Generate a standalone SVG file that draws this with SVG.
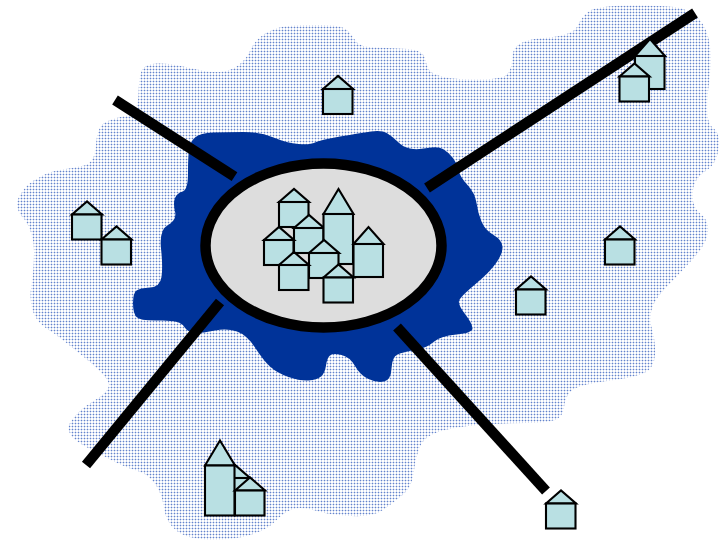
<svg xmlns="http://www.w3.org/2000/svg" width="719" height="540" viewBox="0 0 719 540">
<style>
.wall{fill:#b9e0e3;stroke:#000;stroke-width:2.1;stroke-linejoin:miter}
.road{fill:none;stroke:#000;stroke-width:10.5;stroke-linecap:butt}
</style>
<defs>
<pattern id="dots" width="3" height="3" patternUnits="userSpaceOnUse">
<rect width="3" height="3" fill="#fff"/>
<rect width="3" height="1" fill="#d3dcf1"/>
<rect width="1" height="3" fill="#d3dcf1"/>
<rect width="1" height="1" fill="#6484cc"/>
</pattern>
<g id="small"><path class="wall" d="M0,13 L15,0 L30,13 Z"/><rect class="wall" x="0" y="13" width="29.5" height="25"/></g>
<g id="medium"><path class="wall" d="M0,17 L15,0 L30,17 Z"/><rect class="wall" x="0" y="17" width="29.5" height="33"/></g>
<g id="tall"><path class="wall" d="M0,25 L15,0 L30,25 Z"/><rect class="wall" x="0" y="25" width="29.5" height="50"/></g>
</defs>
<path id="region" fill="url(#dots)" d="M25,220 Q12,207 20,195 Q27,183 38.5,178 Q47,172 60,170 Q73,168 84,165.5 Q95,163 96,145 Q97,127 105,122.5 Q113,118 125.5,116 Q138,114 138.5,94 Q139,72 143.5,68 Q147,64 157,63.5 Q167,63 178.5,65.5 Q190,68 201.5,70.5 Q213,73 223,71.5 Q233,70 240,64 Q247,58 251,49 Q255,40 266,33 Q277,27 288.5,26 Q300,25 321.5,25 Q343,25 348,31 Q353,37 356.5,42 Q360,47 376.5,47.5 Q393,48 407.5,49 Q424,50 425.5,60 Q427,72 437,75 Q447,79 470,79.5 Q493,80 502.5,77 Q512,74 512.5,56 Q513,40 543,38 Q573,36 577.5,26 Q582,16 589.5,11 Q597,6 628.5,5.5 Q660,5 674,7 Q690,9 699,19 Q708,29 710,46.5 Q712,63 708,91.5 Q705,120 711.5,126.5 Q721,133 718.5,148 Q717,165 704,172 Q693,180 692.5,193.5 Q692,207 700,213.5 Q709,220 708,231.5 Q707,243 695,256.5 Q683,270 665,288.5 Q647,307 651,325 Q656,343 655,355 Q654,368 645,372.5 Q637,377 607,381 Q577,385 571,391 Q565,397 564,407 Q563,417 555,420 Q547,423 525,423 Q503,423 478,425 Q453,427 438,432 Q423,437 419,448.5 Q415,460 413.5,473.5 Q412,487 402.5,495 Q393,503 383,510 Q373,517 351.5,516 Q330,515 315,510.5 Q300,506 291.5,509.5 Q283,513 275,521.5 Q267,530 250,535 Q233,540 210,539.5 Q187,539 177,531 Q166,523 164,508 Q162,493 154.5,483 Q147,473 135,470 Q123,467 96.5,452 Q62,437 70,423 Q78,410 93.5,401 Q109,392 109,384.5 Q108,377 87.5,360 Q67,343 53.5,333 Q36,323 33,311.5 Q29,300 31.5,285 Q34,270 34,251.5 Q34,233 25,220 Z"/>
<path id="suburb" fill="#003399" d="M195,137.5 Q200,133 213.5,132.5 Q227,132 243.5,132 Q260,132 273.5,137.5 Q287,143 298.5,144 Q310,145 315,142.5 Q320,140 340,136.5 Q360,133 371,131.5 Q382,130 387.5,133.5 Q393,137 398,142 Q403,147 410,148.5 Q417,150 427.5,148 Q438,146 443,149 Q448,152 452.5,157.5 Q457,163 458.5,170 Q460,177 467.5,185 Q475,193 476.5,203 Q478,213 481.5,221.5 Q485,230 493.5,235 Q502,240 502.5,246.5 Q503,253 496.5,262.5 Q490,272 475,284.5 Q460,297 459,301 Q458,305 465,314 Q472,323 472.5,328 Q473,333 456.5,334.5 Q440,336 433.5,342 Q427,348 415,350 Q403,352 397.5,354.5 Q392,357 391.5,368.5 Q391,380 384,381.5 Q377,383 368.5,379 Q360,375 355,366 Q350,357 341.5,355 Q333,353 330,355.5 Q327,358 326,365.5 Q325,373 321,376.5 Q317,380 308.5,380.5 Q300,381 288.5,377 Q277,373 270,366.5 Q263,360 255,347.5 Q247,335 237,331.5 Q227,328 215,330.5 Q203,333 195.5,333 Q188,333 184,326.5 Q180,320 160,320.5 Q140,321 136.5,317 Q133,313 133,303 Q133,293 136.5,290.5 Q140,288 150,287.5 Q160,287 161.5,277 Q163,267 161,248.5 Q159,230 168,225 Q177,220 175,211.5 Q173,203 175,198 Q177,193 182.5,191.5 Q188,190 188,173.5 Q188,157 189,149.5 Q190,142 195,137.5 Z"/>
<g id="connectors">
<line class="road" x1="115" y1="100" x2="234.5" y2="176.7"/>
<line class="road" x1="695" y1="13" x2="427" y2="188"/>
<line class="road" x1="86" y1="465" x2="220" y2="302"/>
<line class="road" x1="397" y1="327" x2="546" y2="491"/>
</g>
<g id="centre"><ellipse cx="323.5" cy="245.5" rx="118" ry="82" fill="#dddddd" stroke="#000" stroke-width="10.5"/></g>
<g id="house-c1"><use href="#small" x="279" y="189"/></g>
<g id="house-c2"><use href="#small" x="294" y="215"/></g>
<g id="house-c3"><use href="#small" x="264" y="227"/></g>
<g id="house-c4"><use href="#tall" x="323.5" y="189"/></g>
<g id="house-c5"><use href="#medium" x="353.5" y="227"/></g>
<g id="house-c6"><use href="#small" x="309" y="240"/></g>
<g id="house-c7"><use href="#small" x="279" y="252"/></g>
<g id="house-c8"><use href="#small" x="323.5" y="264.5"/></g>
<g id="house-top"><use href="#small" x="323" y="76"/></g>
<g id="house-left1"><use href="#small" x="72" y="201.5"/></g>
<g id="house-left2"><use href="#small" x="101.5" y="226.5"/></g>
<g id="house-ne1"><use href="#medium" x="635" y="39"/></g>
<g id="house-ne2"><use href="#small" x="619.5" y="63.5"/></g>
<g id="house-e"><use href="#small" x="605" y="226.5"/></g>
<g id="house-se"><use href="#small" x="516" y="276.5"/></g>
<g id="house-s"><use href="#small" x="546" y="490.5"/></g>
<g id="house-b1"><use href="#small" x="220" y="465"/></g>
<g id="house-b2"><use href="#tall" x="205" y="440.5"/></g>
<g id="house-b3"><use href="#small" x="235" y="477.5"/></g>
</svg>
